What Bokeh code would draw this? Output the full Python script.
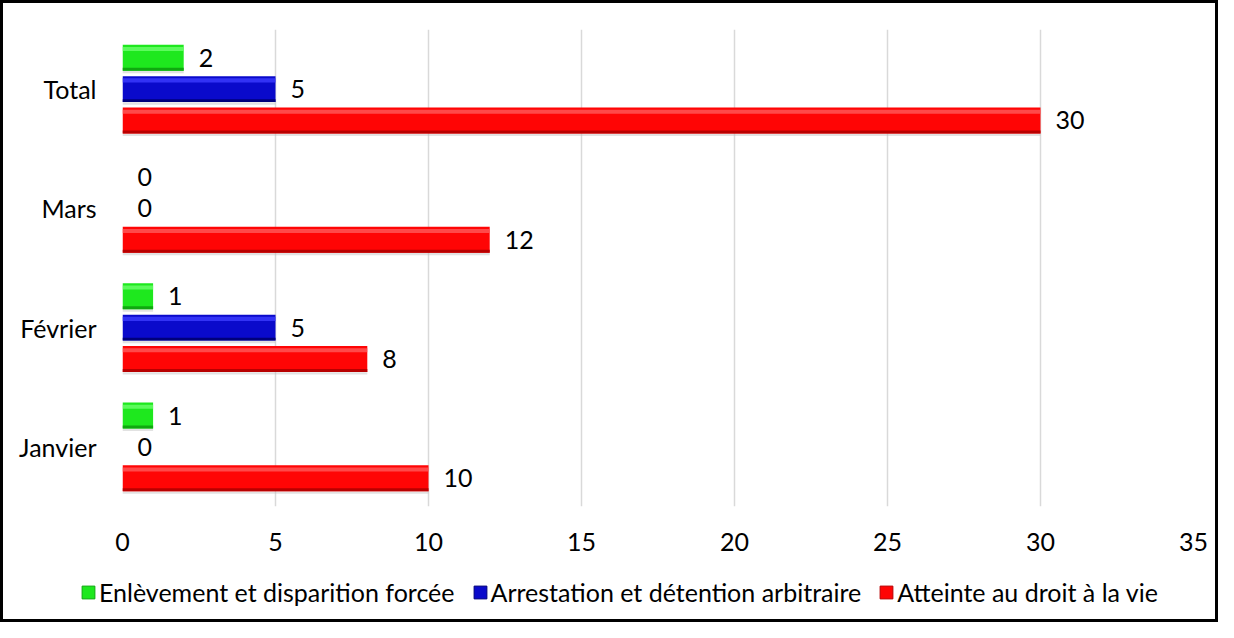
from bokeh.plotting import figure
from bokeh.layouts import column
from bokeh.models import ColumnDataSource, FactorRange, Range1d, Legend, LegendItem, FixedTicker
from bokeh.transform import dodge
from bokeh.core.properties import value
from bokeh.embed import file_html
from bokeh.resources import INLINE

# ---- data ----
categories = ["Janvier", "Février", "Mars", "Total"]
enlevement = [1, 1, 0, 2]
arrestation = [0, 5, 0, 5]
atteinte = [10, 8, 12, 30]
series_names = ["Enlèvement et disparition forcée",
                "Arrestation et détention arbitraire",
                "Atteinte au droit à la vie"]
x_ticks = [0, 5, 10, 15, 20, 25, 30, 35]

FONT = "Lato"
FS = "25px"
W, H_MAIN, H_LEG = 1218, 562, 60

src = ColumnDataSource(dict(
    cat=categories,
    e=enlevement, a=arrestation, v=atteinte,
    e_t=[str(x) for x in enlevement],
    a_t=[str(x) for x in arrestation],
    v_t=[str(x) for x in atteinte],
))

p = figure(width=W, height=H_MAIN, output_backend="svg", toolbar_location=None,
           y_range=FactorRange(*categories, range_padding=0),
           x_range=Range1d(0, 35),
           min_border_left=122, min_border_right=25,
           min_border_top=29, min_border_bottom=H_MAIN - 506)
p.outline_line_color = None
p.background_fill_alpha = 0
p.border_fill_alpha = 0

p.ygrid.grid_line_color = None
p.xgrid.grid_line_color = "#D9D9D9"
p.xgrid.grid_line_width = 1.5
p.xaxis.ticker = FixedTicker(ticks=x_ticks)

for ax in (p.xaxis, p.yaxis):
    ax.axis_line_color = None
    ax.major_tick_line_color = None
    ax.minor_tick_line_color = None
    ax.major_label_text_font = FONT
    ax.major_label_text_font_size = FS
    ax.major_label_text_color = "#000000"
p.xaxis.major_label_standoff = 20
p.yaxis.major_label_standoff = 20

OFF = 0.263
BH = 0.217
specs = [
    ("e", "e_t", OFF, "#1EE81E", "#6BFF6B", "#0FA80F"),
    ("a", "a_t", 0.0, "#0A0ACB", "#3C3CFF", "#00007A"),
    ("v", "v_t", -OFF, "#FF0505", "#FF5A5A", "#B80000"),
]
for col, tcol, off, body, light, dark in specs:
    # soft shadow
    p.hbar(y=dodge("cat", off - BH / 2 - 0.012, range=p.y_range), right=col, left=0,
           height=0.02, source=src, fill_color="#BFBFBF", fill_alpha=0.45, line_color=None)
    p.hbar(y=dodge("cat", off, range=p.y_range), right=col, left=0, height=BH,
           source=src, fill_color=body, line_color=None)
    # top highlight
    p.hbar(y=dodge("cat", off + BH / 2 - 0.035, range=p.y_range), right=col, left=0,
           height=0.035, source=src, fill_color=light, fill_alpha=0.8, line_color=None)
    # bottom dark edge
    p.hbar(y=dodge("cat", off - BH / 2 + 0.012, range=p.y_range), right=col, left=0,
           height=0.024, source=src, fill_color=dark, line_color=None)
    p.text(x=col, y=dodge("cat", off, range=p.y_range), text=tcol, source=src,
           x_offset=15, text_align="left", text_baseline="middle",
           text_font=value(FONT), text_font_size=FS, text_color="#000000")

# ---- legend strip ----
lf = figure(width=W, height=H_LEG, output_backend="svg", toolbar_location=None,
            x_range=Range1d(0, 1), y_range=Range1d(0, 1),
            min_border_left=0, min_border_right=0, min_border_top=0, min_border_bottom=0)
try:
    lf.frame_align = False
except Exception:
    pass
lf.axis.visible = False
lf.grid.visible = False
lf.outline_line_color = None
lf.background_fill_alpha = 0
lf.border_fill_alpha = 0
# legend proxies, kept outside the visible y range
proxy = ColumnDataSource(dict(y=[-2], right=[1]))
leg_rs = [lf.hbar(y="y", right="right", height=0.5, source=proxy,
                  fill_color=body, line_color=dark, line_width=1)
          for _, _, _, body, _, dark in specs]
legend = Legend(items=[LegendItem(label=n, renderers=[r]) for n, r in zip(series_names, leg_rs)],
                orientation="horizontal", location=(80, 15),
                label_text_font=FONT, label_text_font_size=FS, label_text_color="#000000",
                glyph_width=16, glyph_height=16, label_standoff=3, spacing=17,
                padding=0, margin=0, border_line_color=None, background_fill_alpha=0)
lf.add_layout(legend, "center")

layout = column(p, lf, spacing=0)
layout.styles = {"box-shadow": "inset 0 0 0 3px #000000"}

open("out.html", "w").write(file_html(layout, INLINE))
